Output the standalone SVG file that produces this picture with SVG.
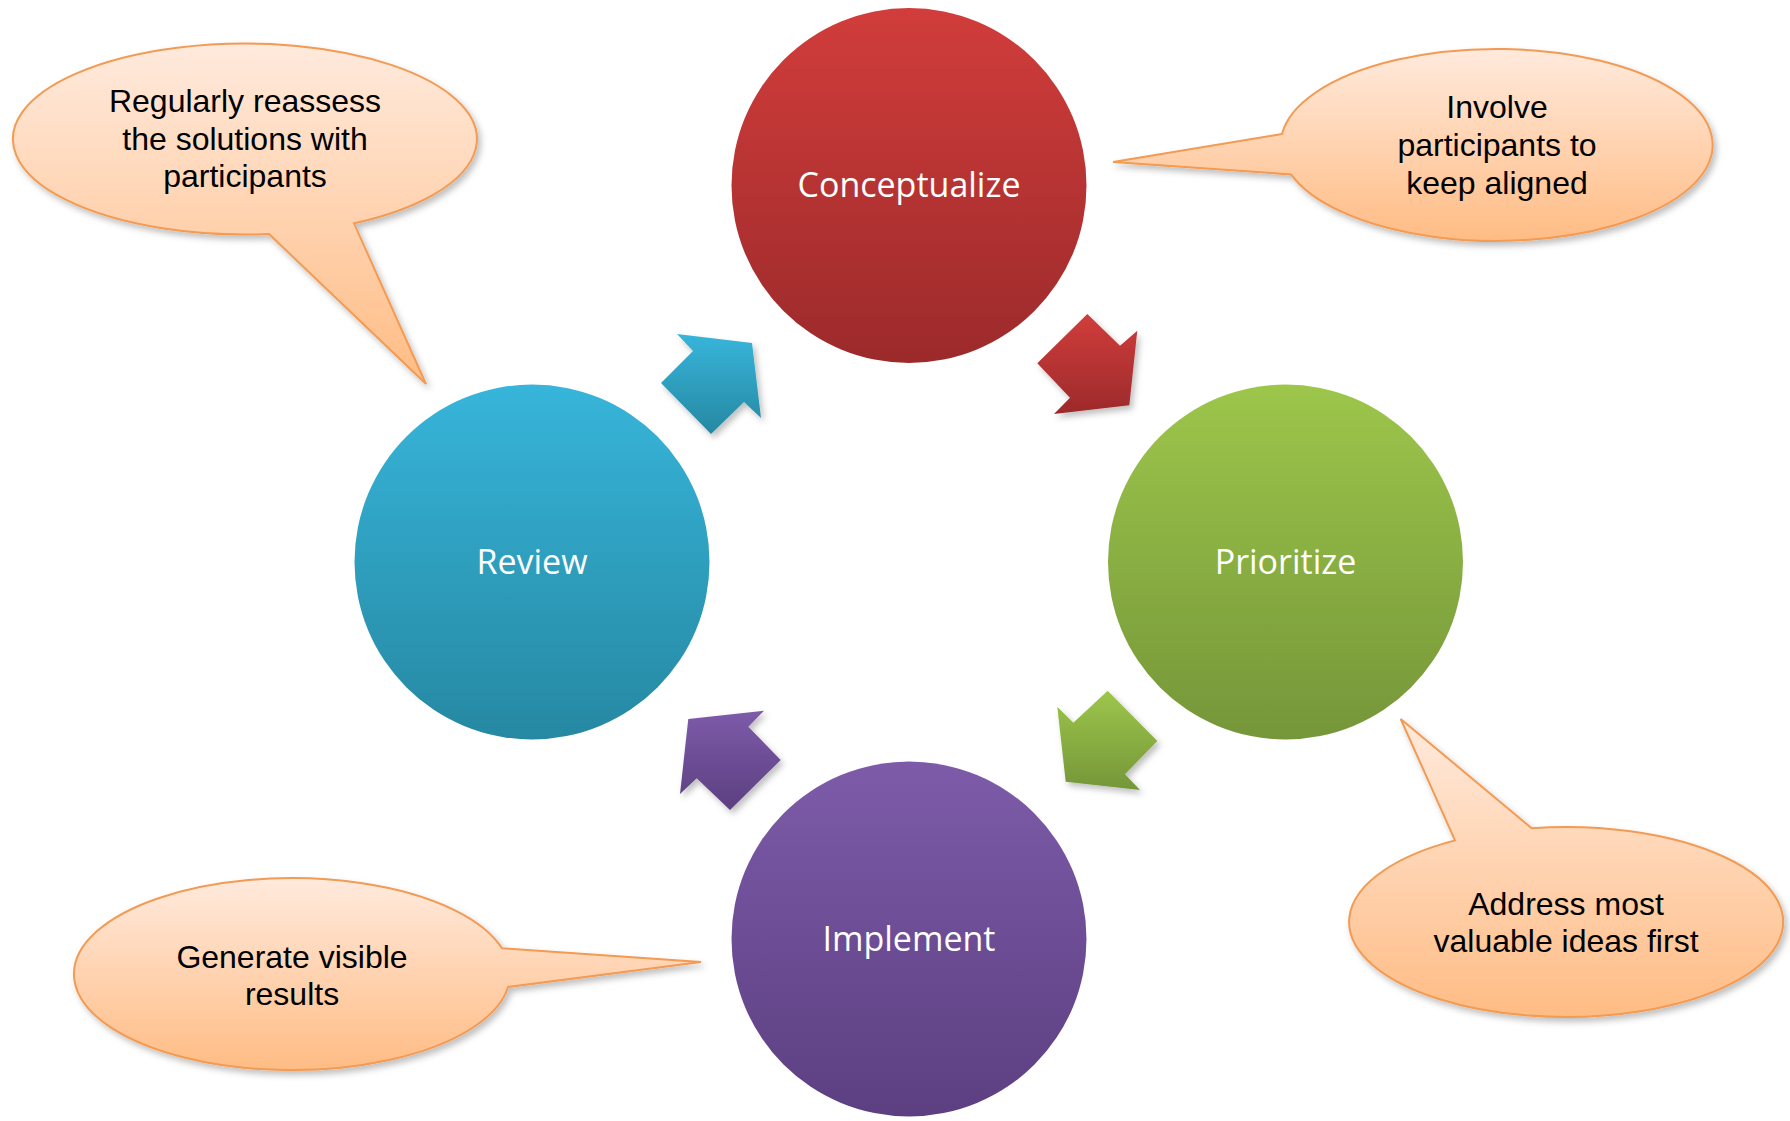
<svg xmlns="http://www.w3.org/2000/svg" width="1790" height="1121" viewBox="0 0 1790 1121">
<style>
.circle-label{font-family:"Open Sans","Noto Sans",sans-serif;font-size:34px;fill:#ffffff;text-anchor:middle}
.callout{stroke:#F39A52;stroke-width:2;fill:url(#gCallout);filter:url(#shadow)}
.callout-text{font-family:"Liberation Sans",Arial,sans-serif;font-size:32px;fill:#000000;text-anchor:middle}
.arrow{filter:url(#shadow)}
</style>
<defs>
<filter id="shadow" x="-20%" y="-20%" width="140%" height="140%">
<feDropShadow dx="3" dy="4" stdDeviation="3" flood-color="#000000" flood-opacity="0.25"/>
</filter>
<linearGradient id="gCallout" x1="0" y1="0" x2="0" y2="1"><stop offset="0" stop-color="#FFEADD"/><stop offset="1" stop-color="#FFBC84"/></linearGradient>
<linearGradient id="gRed" x1="0" y1="0" x2="0" y2="1"><stop offset="0" stop-color="#D13D3B"/><stop offset="1" stop-color="#9C2A2B"/></linearGradient>
<linearGradient id="gBlue" x1="0" y1="0" x2="0" y2="1"><stop offset="0" stop-color="#37B5DA"/><stop offset="1" stop-color="#2688A2"/></linearGradient>
<linearGradient id="gGreen" x1="0" y1="0" x2="0" y2="1"><stop offset="0" stop-color="#9DC64B"/><stop offset="1" stop-color="#759639"/></linearGradient>
<linearGradient id="gPurple" x1="0" y1="0" x2="0" y2="1"><stop offset="0" stop-color="#7D5BA9"/><stop offset="1" stop-color="#5C3F81"/></linearGradient>
</defs>
<rect width="1790" height="1121" fill="#ffffff"/>

<g id="node-conceptualize">
<circle cx="909" cy="185.5" r="177.5" fill="url(#gRed)"/>
<text class="circle-label" x="909" y="197">Conceptualize</text>
</g>
<g id="node-prioritize">
<circle cx="1285.5" cy="562" r="177.5" fill="url(#gGreen)"/>
<text class="circle-label" x="1285.5" y="574">Prioritize</text>
</g>
<g id="node-implement">
<circle cx="909" cy="939" r="177.5" fill="url(#gPurple)"/>
<text class="circle-label" x="909" y="951">Implement</text>
</g>
<g id="node-review">
<circle cx="532" cy="562" r="177.5" fill="url(#gBlue)"/>
<text class="circle-label" x="532" y="574">Review</text>
</g>

<g id="connectors">
<polygon class="arrow" fill="url(#gRed)" points="1087.3,314 1120,345.7 1137.3,330.7 1129.3,405.3 1054,414 1070,397.7 1037.3,363.3"/>
<polygon class="arrow" fill="url(#gGreen)" points="1057.3,706.7 1073.3,722.7 1107.7,690.7 1157.3,741 1125,774.3 1140,790 1065.7,781.7"/>
<polygon class="arrow" fill="url(#gPurple)" points="688.3,719 764,710.7 748.3,726.7 780.7,760 730,810 696.7,778.3 680,794"/>
<polygon class="arrow" fill="url(#gBlue)" points="677,334 752,343 761,418 744,402 711,434 661,383 693,351"/>
</g>

<g id="callout-review">
<path class="callout" d="M 269,234 L 426,384 L 354,223.3 A 232 95.5 0 1 0 269,234 Z"/>
<text class="callout-text" x="245" y="112">Regularly reassess</text>
<text class="callout-text" x="245" y="149.5">the solutions with</text>
<text class="callout-text" x="245" y="187">participants</text>
</g>
<g id="callout-conceptualize">
<path class="callout" d="M 1282,134 L 1113,162 L 1291,174.4 A 216 96 0 1 0 1282,134 Z"/>
<text class="callout-text" x="1497" y="118">Involve</text>
<text class="callout-text" x="1497" y="156">participants to</text>
<text class="callout-text" x="1497" y="194">keep aligned</text>
</g>
<g id="callout-prioritize">
<path class="callout" d="M 1455,840.4 L 1400.7,719 L 1531.7,828.2 A 217 95 0 1 1 1455,840.4 Z"/>
<text class="callout-text" x="1566" y="915">Address most</text>
<text class="callout-text" x="1566" y="952">valuable ideas first</text>
</g>
<g id="callout-implement">
<path class="callout" d="M 502,948.3 L 701,962 L 508,987 A 218 96 0 1 1 502,948.3 Z"/>
<text class="callout-text" x="292" y="968">Generate visible</text>
<text class="callout-text" x="292" y="1005">results</text>
</g>
</svg>
